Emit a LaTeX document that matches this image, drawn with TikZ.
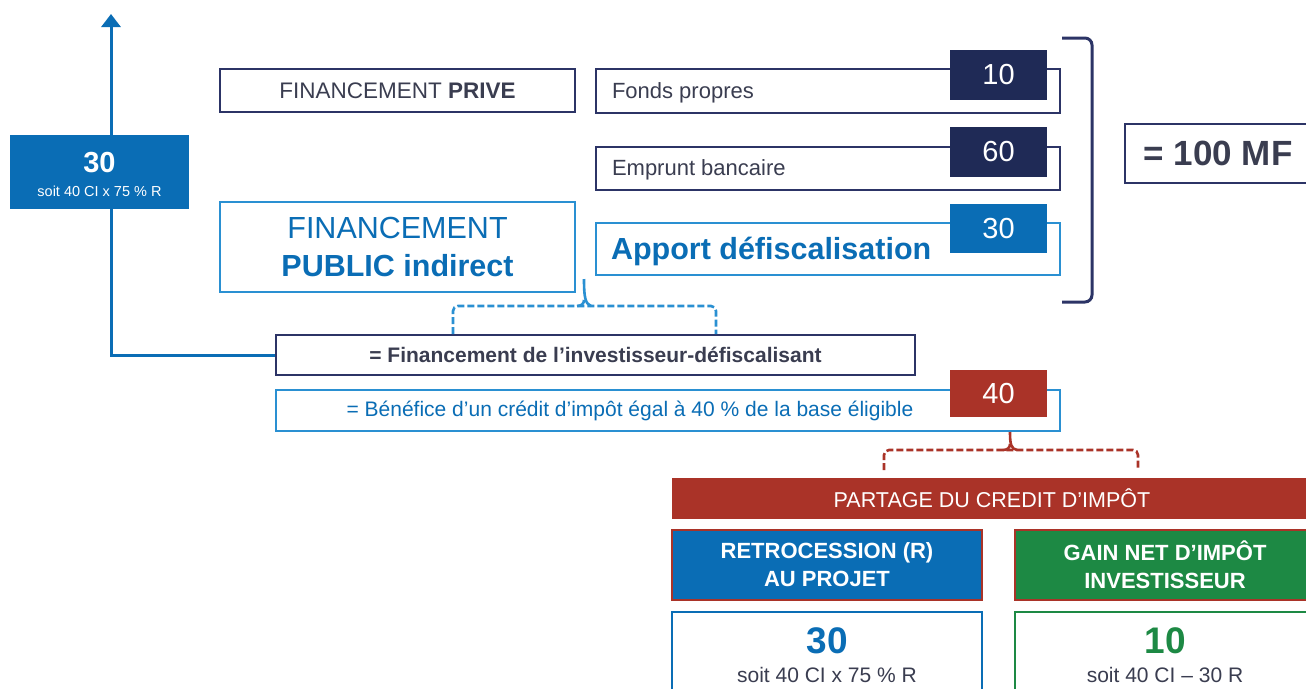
\documentclass[tikz,border=0pt]{standalone}
\usepackage{fontspec}
\setmainfont{Liberation Sans}
\usetikzlibrary{arrows.meta,backgrounds}
\definecolor{navy}{HTML}{2C3466}
\definecolor{navyfill}{HTML}{1F2A56}
\definecolor{dblue}{HTML}{0A6DB5}
\definecolor{lblue}{HTML}{2A90D2}
\definecolor{dred}{HTML}{AA3328}
\definecolor{dgreen}{HTML}{1D8944}
\definecolor{txt}{HTML}{3A3D50}
\newcommand{\fsz}[1]{\fontsize{#1}{#1}\selectfont}
\begin{document}
\begin{tikzpicture}[x=1pt,y=-1pt,
  every node/.style={inner sep=0pt, outer sep=0pt},
  navybox/.style={draw=navy, line width=2.8pt, fill=white},
  bluebox/.style={draw=lblue, line width=2.8pt, fill=white},
  numsq/.style={minimum width=97pt, minimum height=50pt, text=white, font=\fsz{29}},
  lbl/.style={anchor=west, text=txt, font=\fsz{22}},
  bracepath/.style={line width=2.6pt, dash pattern=on 7pt off 3pt},
  bracetip/.style={line width=2.6pt},
  header/.style={draw=dred, line width=1.5pt, text=white, font=\fsz{22}\bfseries, align=center, minimum width=310pt, minimum height=70pt}
]
\useasboundingbox (0,0) rectangle (1306,688);
\begin{pgfonlayer}{background}
\fill[white] (0,0) rectangle (1306,688);
\end{pgfonlayer}

% left column
\node[navybox, minimum width=355pt, minimum height=43pt, text=txt, font=\fsz{22.5}] (priv) at (397.5,90.5) {FINANCEMENT \textbf{PRIVE}};
\node[bluebox, minimum width=355pt, minimum height=90pt, text=dblue, font=\fsz{30.5}, align=center] (pub) at (397.5,247) {FINANCEMENT\\[8pt]\textbf{PUBLIC indirect}};

% right column boxes
\node[navybox, minimum width=464pt, minimum height=44pt] (fonds) at (828,91) {};
\node[lbl] (fondst) at (612,93) {Fonds propres};
\node[navybox, minimum width=464pt, minimum height=43pt] (emp) at (828,168.5) {};
\node[lbl] (empt) at (612,170) {Emprunt bancaire};
\node[bluebox, minimum width=464pt, minimum height=52pt] (app) at (828,249) {};
\node[lbl, text=dblue, font=\fsz{30.5}\bfseries] (appt) at (611,251) {Apport défiscalisation};

\node[numsq, fill=navyfill] (n10) at (998.5,74.5) {10};
\node[numsq, fill=navyfill] (n60) at (998.5,152) {60};
\node[numsq, fill=dblue, minimum height=49pt] (n30) at (998.5,228.5) {30};

% bracket and total
\draw[navy, line width=3pt, rounded corners=7pt] (1062,38) -- (1092,38) -- (1092,302) -- (1062,302);
\node[navybox, minimum width=186pt, minimum height=59pt, text=txt, font=\fsz{35}\bfseries] (tot) at (1218,153.5) {= 100 MF};

% investor boxes
\node[navybox, minimum width=639pt, minimum height=40pt, text=txt, font=\fsz{21}\bfseries] (inv) at (595.5,355) {= Financement de l’investisseur-défiscalisant};
\node[bluebox, minimum width=784pt, minimum height=41pt] (ben) at (668,410.5) {};
\node[text=dblue, font=\fsz{21}] (bent) at (630,411) {= Bénéfice d’un crédit d’impôt égal à 40 \% de la base éligible};
\node[numsq, fill=dred, minimum height=47pt] (n40) at (998.5,393.5) {40};

% left blue box and arrow
\coordinate (top) at (111,14);
\node[fill=dblue, minimum width=179pt, minimum height=74pt] (l30) at (99.5,172) {};
\node[text=white, font=\fsz{29}\bfseries] (l30a) at (99.5,163) {30};
\node[text=white, font=\fsz{14.5}] (l30b) at (99.5,191) {soit 40 CI x 75 \% R};
\begin{pgfonlayer}{background}
\draw[dblue, line width=3pt, -{Triangle[width=19pt,length=13pt]}] (inv.west) -| (top);
\end{pgfonlayer}

% blue brace
\coordinate (bt) at (584,279);
\draw[lblue, bracetip] (bt) .. controls (584,296) and (585,304) .. (591,306);
\draw[lblue, bracetip] (584,300) .. controls (584,304) and (581,306) .. (577,306);
\draw[lblue, bracepath, rounded corners=5pt] (453,334) -- (453,306) -- (716,306) -- (716,334);

% red brace
\coordinate (rt) at (1010,432);
\draw[dred, bracetip] (rt) .. controls (1010,444) and (1011,449) .. (1017,450);
\draw[dred, bracetip] (1010,444) .. controls (1010,448) and (1007,450) .. (1003,450);
\draw[dred, bracepath, rounded corners=5pt] (884,470) -- (884,450) -- (1138,450) -- (1138,470);

% partage
\node[fill=dred, minimum width=640pt, minimum height=41pt, text=white, font=\fsz{21.5}] (part) at (992,498.5) {PARTAGE DU CREDIT D’IMPÔT};
\node[header, fill=dblue] (retro) at (827,565) {RETROCESSION (R)\\[6pt]AU PROJET};
\node[header, fill=dgreen, minimum width=300pt] (gain) at (1165,565) {GAIN NET D’IMPÔT\\[6pt]INVESTISSEUR};
\node[draw=dblue, line width=2.8pt, fill=white, minimum width=310pt, minimum height=90pt] (vr) at (827,657) {};
\node[text=dblue, font=\fsz{37}\bfseries] (vra) at (827,641) {30};
\node[text=txt, font=\fsz{21}] (vrb) at (827,675) {soit 40 CI x 75 \% R};
\node[draw=dgreen, line width=2.8pt, fill=white, minimum width=300pt, minimum height=90pt] (vg) at (1165,657) {};
\node[text=dgreen, font=\fsz{37}\bfseries] (vga) at (1165,641) {10};
\node[text=txt, font=\fsz{21}] (vgb) at (1165,675) {soit 40 CI – 30 R};
\end{tikzpicture}
\end{document}
